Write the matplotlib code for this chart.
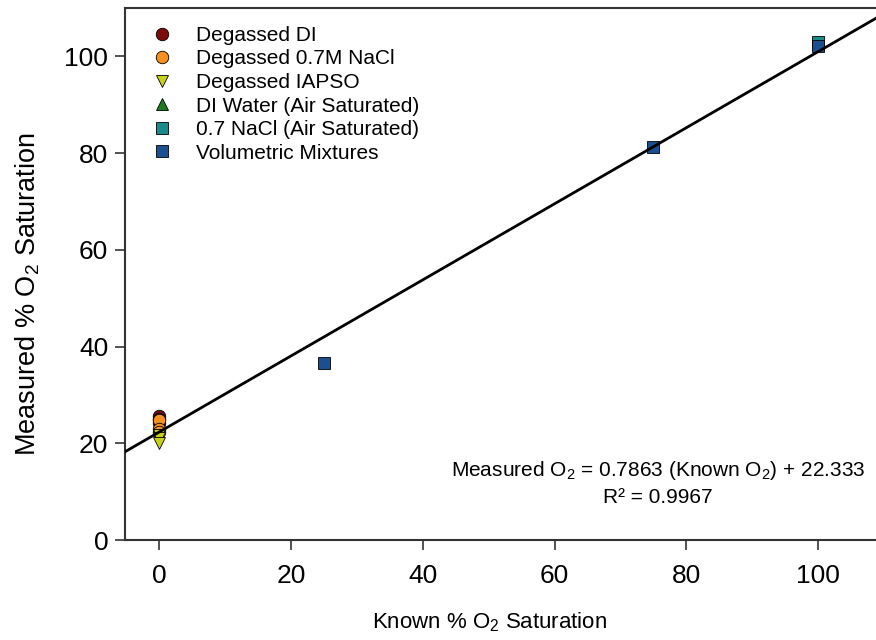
import matplotlib.pyplot as plt
import numpy as np

plt.rcParams['font.family'] = ['Liberation Sans', 'DejaVu Sans']
plt.rcParams['mathtext.fontset'] = 'custom'
plt.rcParams['mathtext.rm'] = 'Liberation Sans'
plt.rcParams['mathtext.it'] = 'Liberation Sans:italic'

# data
di_x = [0, 0, 0]
di_y = [25.6, 25.0, 24.2]
nacl_x = [0, 0, 0]
nacl_y = [24.8, 23.0, 22.4]
iapso_x = [0, 0, 0]
iapso_y = [21.8, 21.0, 20.0]
di_air_x = [100]
di_air_y = [102.6]
nacl_air_x = [100]
nacl_air_y = [103.0]
mix_x = [25, 75, 100]
mix_y = [36.5, 81.2, 102.2]

slope = 0.7863
intercept = 22.333

fig = plt.figure(figsize=(8.76, 6.4), dpi=100)
ax = fig.add_axes([125/876, 100/640, 751/876, 532/640])

ms = 9
ax.plot(di_x, di_y, 'o', color='#7a0c0c', mec='black', mew=0.6, ms=ms, label='Degassed DI', zorder=2)
ax.plot(nacl_x, nacl_y, 'o', color='#f7901e', mec='black', mew=0.6, ms=ms, label='Degassed 0.7M NaCl', zorder=2)
ax.plot(iapso_x, iapso_y, 'v', color='#c6d21a', mec='black', mew=0.6, ms=ms, label='Degassed IAPSO', zorder=2)
ax.plot(di_air_x, di_air_y, '^', color='#1f7a1f', mec='black', mew=0.6, ms=ms, label='DI Water (Air Saturated)', zorder=2)
ax.plot(nacl_air_x, nacl_air_y, 's', color='#1b8a8a', mec='black', mew=0.6, ms=ms, label='0.7 NaCl (Air Saturated)', zorder=2)
ax.plot(mix_x, mix_y, 's', color='#1c4f8f', mec='black', mew=0.6, ms=ms, label='Volumetric Mixtures', zorder=2)

# regression line
xl = np.array([-6, 112])
ax.plot(xl, slope * xl + intercept, color='black', lw=2, zorder=3)

ax.set_xlim(-5.2, 108.8)
ax.set_ylim(0, 110)
ax.set_xticks([0, 20, 40, 60, 80, 100])
ax.set_yticks([0, 20, 40, 60, 80, 100])
ax.tick_params(direction='out', length=7, width=1.2, labelsize=19, color='#333333', pad=5)
ax.tick_params(axis='x', pad=10)

for s in ['left', 'bottom', 'top']:
    ax.spines[s].set_color('#333333')
    ax.spines[s].set_linewidth(1.5)
ax.spines['right'].set_visible(False)

ax.set_xlabel('Known % O$_2$ Saturation', fontsize=16)
ax.set_ylabel('Measured % O$_2$ Saturation', fontsize=19.5)
ax.xaxis.set_label_coords(0.486, -0.133)
ax.yaxis.set_label_coords(-0.11, 0.462)

ax.legend(loc='upper left', bbox_to_anchor=(0.005, 0.99), frameon=False, fontsize=15,
          handletextpad=0.65, labelspacing=0.22, borderaxespad=0.2)

ax.text(75.7, 11.8, 'Measured O$_2$ = 0.7863 (Known O$_2$) + 22.333\nR² = 0.9967',
        ha='center', va='center', fontsize=15, linespacing=1.4)

fig.savefig('out.png', dpi=100)
